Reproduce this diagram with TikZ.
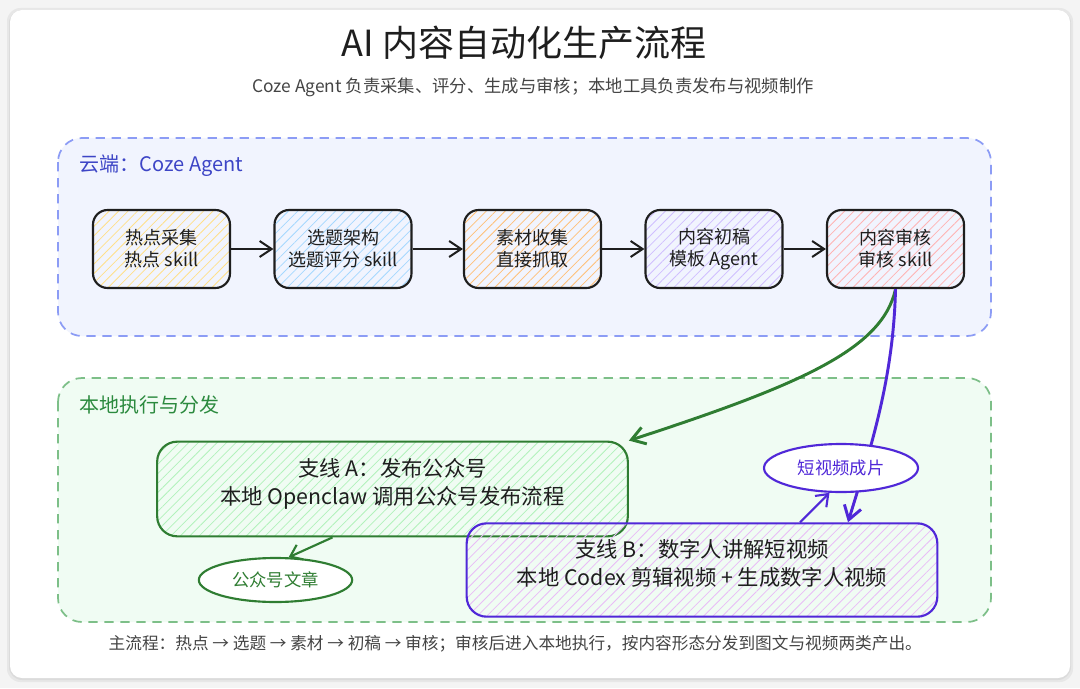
\documentclass[tikz,border=0pt]{standalone}
\usepackage{fontspec}
\setmainfont{Noto Sans CJK SC}
\usetikzlibrary{arrows.meta,patterns.meta,shapes.geometric,calc}

\definecolor{pagegray}{HTML}{F4F4F4}
\definecolor{cloudline}{HTML}{8C9CF5}
\definecolor{cloudfill}{HTML}{F1F4FE}
\definecolor{cloudtext}{HTML}{3D45C6}
\definecolor{localline}{HTML}{7DBF88}
\definecolor{localfill}{HTML}{F0FCF3}
\definecolor{localtext}{HTML}{2B8A3E}
\definecolor{agreen}{HTML}{2F7D32}
\definecolor{bpurple}{HTML}{5028D8}
\definecolor{hyellow}{HTML}{FFE08A}
\definecolor{hblue}{HTML}{A5D8FF}
\definecolor{horange}{HTML}{FFC078}
\definecolor{hpurple}{HTML}{D0BFFF}
\definecolor{hred}{HTML}{FFB3B3}
\definecolor{hgreen}{HTML}{B2F2BB}
\definecolor{hpink}{HTML}{E9BCF7}
\definecolor{inkgray}{HTML}{1E1E1E}
\definecolor{notegray}{HTML}{444444}

\begin{document}
\begin{tikzpicture}[x=0.75pt,y=-0.75pt,
    hatch/.style={pattern={Lines[angle=45,distance=5pt,line width=0.6pt]}},
    stepbox/.style={hatch, draw=inkgray, line width=1.6pt, rounded corners=11pt,
      minimum width=102.75pt, minimum height=58.5pt, align=center,
      font=\fontsize{13.5}{16.5}\selectfont, text=inkgray},
    branchbox/.style={hatch, line width=1.6pt, rounded corners=15pt,
      minimum width=353pt, minimum height=71pt, align=center, text depth=11pt,
      font=\fontsize{16}{21}\selectfont, text=inkgray},
    outnode/.style={ellipse, fill=white, line width=1.6pt, inner sep=0pt,
      font=\fontsize{13}{15}\selectfont},
    panel/.style={dash pattern=on 7pt off 5pt, line width=1.3pt, rounded corners=18pt},
    flow/.style={draw=inkgray, line width=1.5pt, -{Straight Barb[length=9pt,width=12pt]}},
    bigflow/.style={line width=2.2pt, -{Straight Barb[length=10pt,width=13pt]}}]

  % Page and card
  \useasboundingbox (0,0) rectangle (1080,688);
  \fill[pagegray] (0,0) rectangle (1080,688);
  \fill[black, opacity=0.05, rounded corners=10pt] (7,8) rectangle (1073,682);
  \fill[black, opacity=0.05, rounded corners=10pt] (9,10) rectangle (1071,680);
  \fill[white, rounded corners=9pt] (10,10) rectangle (1070,678);

  % Title
  \node[text=inkgray, font=\fontsize{27}{31}\selectfont] (title) at (524,43) {AI 内容自动化生产流程};
  \node[text=notegray, font=\fontsize{13}{15}\selectfont] (subtitle) at (533,87)
    {Coze Agent 负责采集、评分、生成与审核；本地工具负责发布与视频制作};

  % The two areas
  \draw[panel, draw=cloudline, fill=cloudfill] (58,138) rectangle (991,336);
  \draw[panel, draw=localline, fill=localfill] (58,378) rectangle (991,622);
  \node[anchor=west, text=cloudtext, font=\fontsize{15}{17}\selectfont] (cloudlabel) at (75,166) {云端：Coze Agent};
  \node[anchor=west, text=localtext, font=\fontsize{15}{17}\selectfont] (locallabel) at (75,405) {本地执行与分发};

  % Cloud steps
  \node[stepbox, pattern color=hyellow] (hotspot) at (161.5,249) {热点采集\\热点 skill};
  \node[stepbox, pattern color=hblue] (topic) at (343,249) {选题架构\\选题评分 skill};
  \node[stepbox, pattern color=horange] (material) at (532.5,249) {素材收集\\直接抓取};
  \node[stepbox, pattern color=hpurple] (draft) at (714,249) {内容初稿\\模板 Agent};
  \node[stepbox, pattern color=hred] (review) at (895.5,249) {内容审核\\审核 skill};

  \draw[flow] (hotspot) -- (topic);
  \draw[flow] (topic) -- (material);
  \draw[flow] (material) -- (draft);
  \draw[flow] (draft) -- (review);

  % Local branches
  \node[branchbox, draw=agreen, pattern color=hgreen] (brancha) at (392.5,489)
    {支线 A：发布公众号\\本地 Openclaw 调用公众号发布流程};
  \node[branchbox, draw=bpurple, pattern color=hpink, minimum height=70pt] (branchb) at (702,570)
    {支线 B：数字人讲解短视频\\本地 Codex 剪辑视频 + 生成数字人视频};

  % From review to the branches
  \draw[bigflow, draw=agreen] (review.south) .. controls +(-13,60) and +(172,-56) .. (brancha.north east);
  \draw[bigflow, draw=bpurple] (review.south) .. controls +(-2,90) and +(22,-72) .. ($(branchb.north)+(146,0)$);

  % Outputs
  \node[outnode, draw=agreen, text=agreen, minimum width=115pt, minimum height=33pt] (article) at (275.5,580) {公众号文章};
  \node[outnode, draw=bpurple, text=bpurple, minimum width=115.5pt, minimum height=36pt] (video) at (841,468) {短视频成片};

  \draw[draw=agreen, line width=1.6pt, -{Straight Barb[length=8pt,width=12pt]}] ($(brancha.south)+(-60,0)$) -- (article.60);
  \draw[draw=bpurple, line width=1.6pt, -{Straight Barb[length=8pt,width=12pt]}] ($(branchb.north)+(98,0)$) -- (video.245);

  % Footer
  \node[anchor=west, text=notegray, font=\fontsize{12.5}{15}\selectfont] (footer) at (104,644)
    {主流程：热点 → 选题 → 素材 → 初稿 → 审核；审核后进入本地执行，按内容形态分发到图文与视频两类产出。};
\end{tikzpicture}
\end{document}
